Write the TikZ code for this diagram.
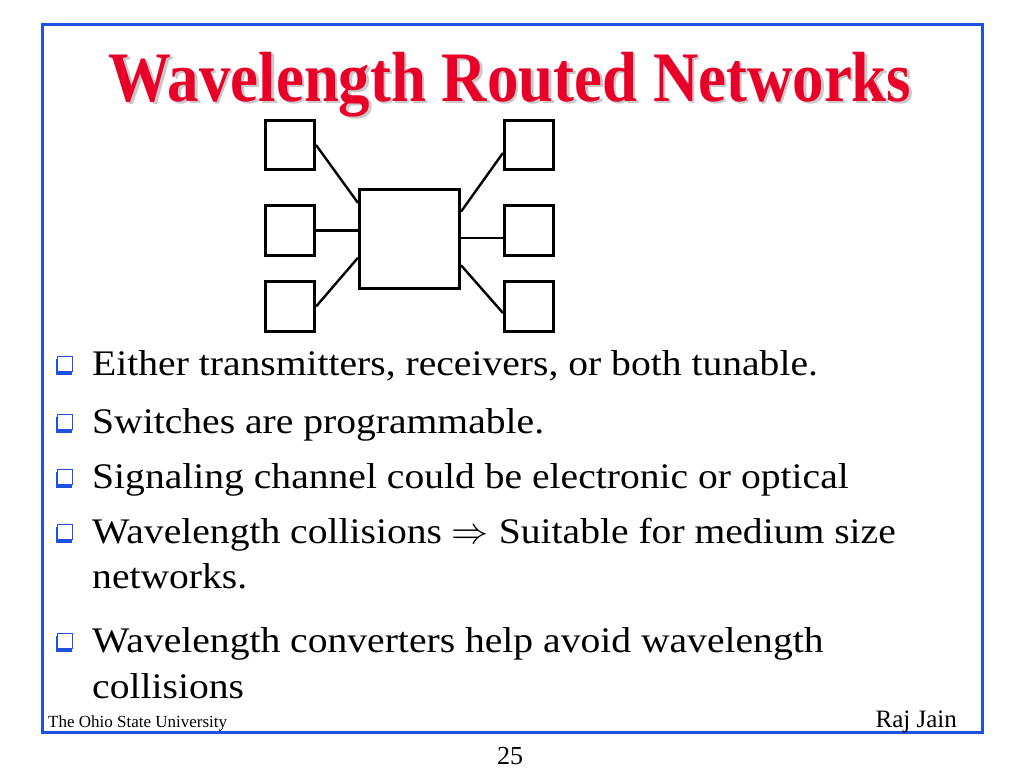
\documentclass[tikz,border=0pt]{standalone}
\usepackage{fontspec}
\setmainfont{Liberation Serif}
\newfontfamily\punktfont[FakeStretch=1.1]{Liberation Serif}
\usetikzlibrary{positioning}
\definecolor{raud}{RGB}{232,0,40}
\definecolor{blaa}{RGB}{30,80,225}
\definecolor{skugge}{RGB}{200,200,200}

\begin{document}
\begin{tikzpicture}[%
x=1pt, y=-1pt,
boks/.style={draw,line width=2.6pt,minimum size=49.5pt,inner sep=0pt},
svitsj/.style={draw,line width=2.6pt,minimum width=100.5pt,minimum height=99.5pt,inner sep=0pt},
kobling/.style={line width=2.4pt},
tittel/.style={anchor=base,inner sep=0pt,font=\fontsize{71}{71}\selectfont\bfseries},
punkt/.style={anchor=base west,inner sep=0pt,font=\fontsize{36}{36}\punktfont},
fot/.style={inner sep=0pt}]
\useasboundingbox (0,0) rectangle (1024,768);
\draw [blaa,line width=3pt] (42,25) rectangle (982,732);
% tittel med skugge
\node [tittel,text=skugge] (tittelskugge) at (512.5,103.5) {\scalebox{.885}[1]{Wavelength Routed Networks}};
\node [tittel,text=raud]   (tittel)       at (510,101) {\scalebox{.885}[1]{Wavelength Routed Networks}};
% nettverket
\node [svitsj] (sw) at (409.5,239) {};
\node [boks] (L1) at (290,145)   {};
\node [boks] (L2) at (290,230.5) {};
\node [boks] (L3) at (290,306.5) {};
\node [boks] (R1) at (529,145)   {};
\node [boks] (R2) at (529,230.5) {};
\node [boks] (R3) at (529,306.5) {};
\draw [kobling] (L1.east)          -- (sw.145);
\draw [kobling] (L2.east)          -- (L2.east -| sw.west);
\draw [kobling] (L3.east)          -- (sw.200);
\draw [kobling] (sw.28)            -- (R1.197);
\draw [kobling] (sw.east |- R2.196) -- (R2.196);
\draw [kobling] (sw.333)           -- (R3.194);
% punktliste
\node [punkt] (p1)  at (92,375) {Either transmitters, receivers, or both tunable.};
\node [punkt] (p2)  at (92,433) {Switches are programmable.};
\node [punkt] (p3)  at (92,488) {Signaling channel could be electronic or optical};
\node [punkt] (p4)  at (92,543) {Wavelength collisions \resizebox{37pt}{!}{$\Rightarrow$} Suitable for medium size};
\node [punkt] (p4b) at (92,588) {networks.};
\node [punkt] (p5)  at (92,652) {Wavelength converters help avoid wavelength};
\node [punkt] (p5b) at (92,698) {collisions};
\foreach \y in {375,433,488,543,652} {
\fill [blaa] (55.5,\y-16.5) rectangle (71.5,\y-0.5);
\draw [blaa,fill=white,line width=1.2pt] (57.5,\y-18.5) rectangle (72.5,\y-3.5);
}
% bunntekst
\node [fot,anchor=base west,font=\fontsize{17}{17}\selectfont] (ohio) at (48,727)  {The Ohio State University};
\node [fot,anchor=base east,font=\fontsize{25}{25}\selectfont] (jain) at (957,727) {Raj Jain};
\node [fot,anchor=base,font=\fontsize{26}{26}\selectfont]      (side) at (510,764) {25};
\end{tikzpicture}
\end{document}
